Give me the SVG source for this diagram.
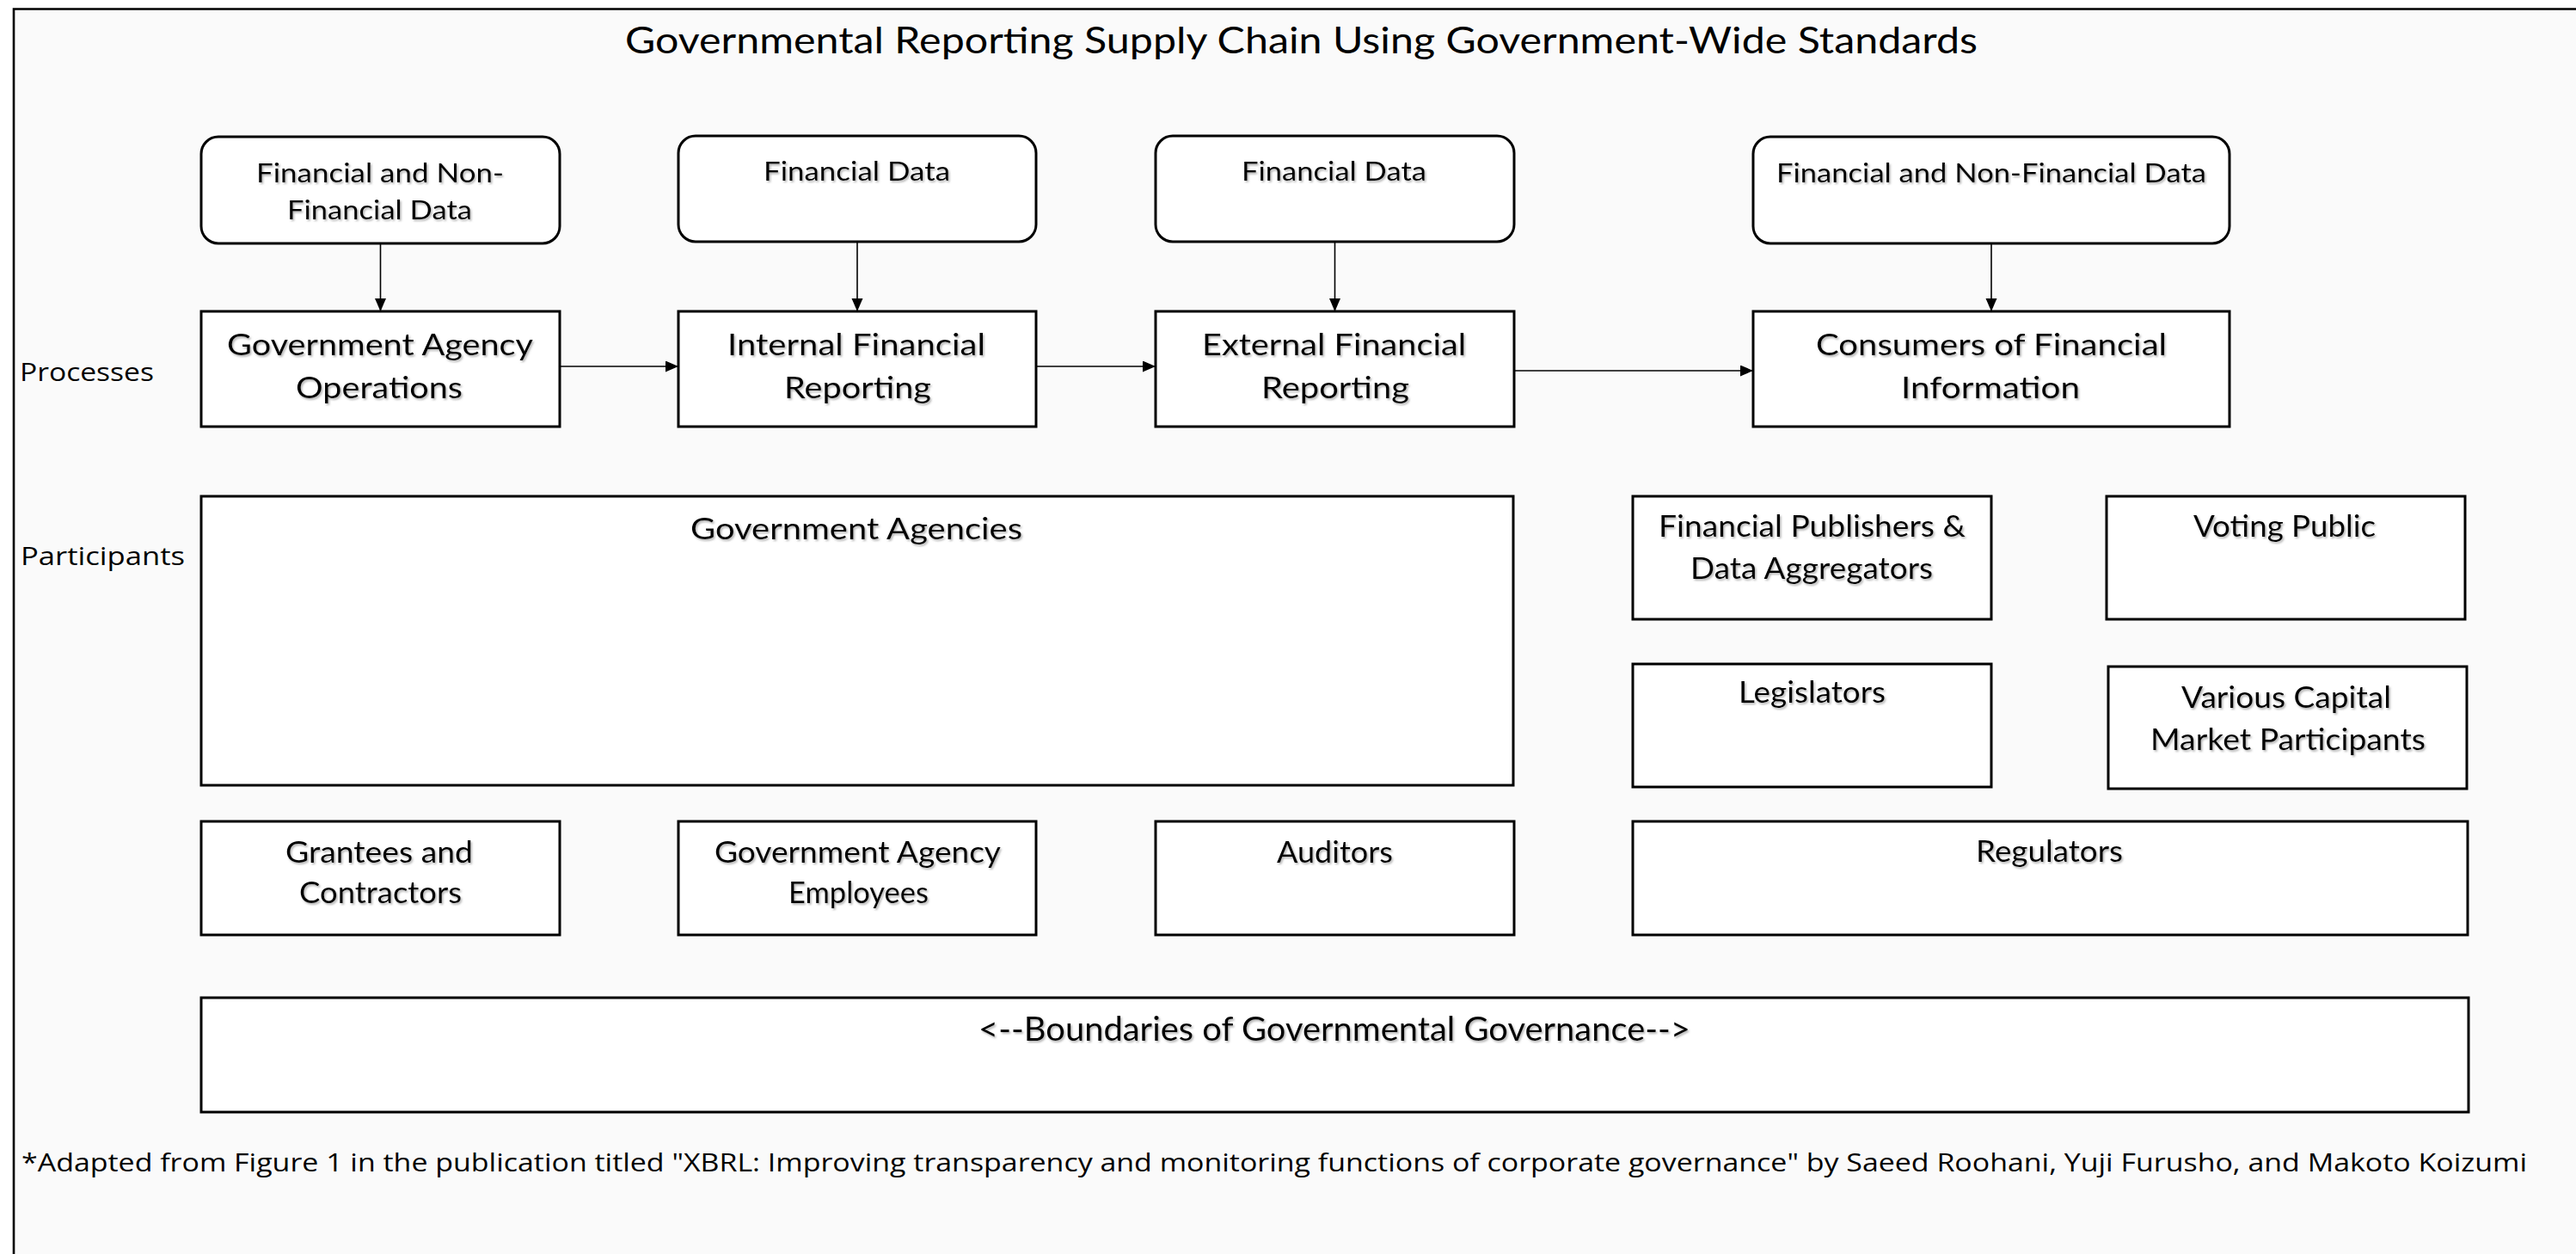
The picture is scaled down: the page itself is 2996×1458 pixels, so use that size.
<svg xmlns="http://www.w3.org/2000/svg" width="2996" height="1458" viewBox="0 0 2996 1458">
<defs>
<style>
.bg{fill:#fafafa}
.box{fill:#ffffff;stroke:#000000;stroke-width:3}
.conn{stroke:#000000;stroke-width:1.6;fill:none}
.t{font-family:Lato,"Liberation Sans",sans-serif;fill:#000000;text-anchor:middle;filter:url(#sh)}
.p{font-size:35px}
.d{font-size:30px}
.lab{font-family:"Open Sans","Liberation Sans",sans-serif;fill:#000000;font-size:30px}
</style>
<filter id="sh" x="-5%" y="-20%" width="110%" height="150%">
<feDropShadow dx="1.5" dy="2" stdDeviation="1.2" flood-color="#777777" flood-opacity="0.55"/>
</filter>
<marker id="ah" markerUnits="userSpaceOnUse" markerWidth="16" markerHeight="14" refX="15" refY="6.5" orient="auto">
<path d="M0,0 L15,6.5 L0,13 z" fill="#000000"/>
</marker>
</defs>
<rect x="0" y="0" width="2996" height="1458" fill="#ffffff"/>
<rect class="bg" x="16" y="10.5" width="2990" height="1460"/>
<path d="M16,1460 L16,10.5 L2996,10.5" fill="none" stroke="#000000" stroke-width="2.6"/>

<text id="title" class="t" x="1513.5" y="62" font-size="42" textLength="1573" lengthAdjust="spacingAndGlyphs" style="filter:none">Governmental Reporting Supply Chain Using Government-Wide Standards</text>

<text class="lab" x="23" y="443" textLength="156" lengthAdjust="spacingAndGlyphs">Processes</text>
<text class="lab" x="24" y="657" textLength="191" lengthAdjust="spacingAndGlyphs">Participants</text>

<g id="connectors">
<line class="conn" x1="442.5" y1="283" x2="442.5" y2="362" marker-end="url(#ah)"/>
<line class="conn" x1="997" y1="281" x2="997" y2="362" marker-end="url(#ah)"/>
<line class="conn" x1="1552.5" y1="281" x2="1552.5" y2="362" marker-end="url(#ah)"/>
<line class="conn" x1="2316" y1="283" x2="2316" y2="362" marker-end="url(#ah)"/>
<line class="conn" x1="651" y1="426" x2="789" y2="426" marker-end="url(#ah)"/>
<line class="conn" x1="1205" y1="426" x2="1344" y2="426" marker-end="url(#ah)"/>
<line class="conn" x1="1761" y1="431" x2="2039" y2="431" marker-end="url(#ah)"/>
</g>

<g id="data1">
<rect class="box" x="234" y="159" width="417" height="124" rx="20" ry="20"/>
<text class="t d" x="442" y="212" textLength="288" lengthAdjust="spacingAndGlyphs">Financial and Non-</text>
<text class="t d" x="441.5" y="255" textLength="215" lengthAdjust="spacingAndGlyphs">Financial Data</text>
</g>
<g id="data2">
<rect class="box" x="789" y="158" width="416" height="123" rx="20" ry="20"/>
<text class="t d" x="996.5" y="210" textLength="217" lengthAdjust="spacingAndGlyphs">Financial Data</text>
</g>
<g id="data3">
<rect class="box" x="1344" y="158" width="417" height="123" rx="20" ry="20"/>
<text class="t d" x="1551.5" y="210" textLength="215" lengthAdjust="spacingAndGlyphs">Financial Data</text>
</g>
<g id="data4">
<rect class="box" x="2039" y="159" width="554" height="124" rx="20" ry="20"/>
<text class="t d" x="2316" y="212" textLength="500" lengthAdjust="spacingAndGlyphs">Financial and Non-Financial Data</text>
</g>

<g id="proc1">
<rect class="box" x="234" y="362" width="417" height="134"/>
<text class="t p" x="442" y="413" textLength="356" lengthAdjust="spacingAndGlyphs">Government Agency</text>
<text class="t p" x="441" y="463" textLength="194" lengthAdjust="spacingAndGlyphs">Operations</text>
</g>
<g id="proc2">
<rect class="box" x="789" y="362" width="416" height="134"/>
<text class="t p" x="996" y="413" textLength="300" lengthAdjust="spacingAndGlyphs">Internal Financial</text>
<text class="t p" x="997.5" y="463" textLength="171" lengthAdjust="spacingAndGlyphs">Reporting</text>
</g>
<g id="proc3">
<rect class="box" x="1344" y="362" width="417" height="134"/>
<text class="t p" x="1551.5" y="413" textLength="307" lengthAdjust="spacingAndGlyphs">External Financial</text>
<text class="t p" x="1553" y="463" textLength="172" lengthAdjust="spacingAndGlyphs">Reporting</text>
</g>
<g id="proc4">
<rect class="box" x="2039" y="362" width="554" height="134"/>
<text class="t p" x="2316" y="413" textLength="408" lengthAdjust="spacingAndGlyphs">Consumers of Financial</text>
<text class="t p" x="2315" y="463" textLength="208" lengthAdjust="spacingAndGlyphs">Information</text>
</g>

<g id="govagencies">
<rect class="box" x="234" y="577" width="1526" height="336"/>
<text class="t p" x="996" y="627" textLength="386" lengthAdjust="spacingAndGlyphs">Government Agencies</text>
</g>
<g id="publishers">
<rect class="box" x="1899" y="577" width="417" height="143"/>
<text class="t p" x="2107.5" y="624" textLength="357" lengthAdjust="spacingAndGlyphs">Financial Publishers &amp;</text>
<text class="t p" x="2107" y="673" textLength="282" lengthAdjust="spacingAndGlyphs">Data Aggregators</text>
</g>
<g id="voting">
<rect class="box" x="2450" y="577" width="417" height="143"/>
<text class="t p" x="2657" y="624" textLength="212" lengthAdjust="spacingAndGlyphs">Voting Public</text>
</g>
<g id="legislators">
<rect class="box" x="1899" y="772" width="417" height="143"/>
<text class="t p" x="2107.5" y="817" textLength="171" lengthAdjust="spacingAndGlyphs">Legislators</text>
</g>
<g id="capital">
<rect class="box" x="2452" y="775" width="417" height="142"/>
<text class="t p" x="2659" y="823" textLength="244" lengthAdjust="spacingAndGlyphs">Various Capital</text>
<text class="t p" x="2661" y="872" textLength="320" lengthAdjust="spacingAndGlyphs">Market Participants</text>
</g>
<g id="grantees">
<rect class="box" x="234" y="955" width="417" height="132"/>
<text class="t p" x="441" y="1003" textLength="218" lengthAdjust="spacingAndGlyphs">Grantees and</text>
<text class="t p" x="442.5" y="1050" textLength="189" lengthAdjust="spacingAndGlyphs">Contractors</text>
</g>
<g id="employees">
<rect class="box" x="789" y="955" width="416" height="132"/>
<text class="t p" x="997.5" y="1003" textLength="333" lengthAdjust="spacingAndGlyphs">Government Agency</text>
<text class="t p" x="998.5" y="1050" textLength="163" lengthAdjust="spacingAndGlyphs">Employees</text>
</g>
<g id="auditors">
<rect class="box" x="1344" y="955" width="417" height="132"/>
<text class="t p" x="1552.5" y="1003" textLength="135" lengthAdjust="spacingAndGlyphs">Auditors</text>
</g>
<g id="regulators">
<rect class="box" x="1899" y="955" width="971" height="132"/>
<text class="t p" x="2383.5" y="1002" textLength="171" lengthAdjust="spacingAndGlyphs">Regulators</text>
</g>
<g id="boundaries">
<rect class="box" x="234" y="1160" width="2637" height="133"/>
<text class="t" x="1552" y="1210" font-size="39" textLength="828" lengthAdjust="spacingAndGlyphs">&lt;--Boundaries of Governmental Governance--&gt;</text>
</g>

<text id="footnote" class="lab" x="25" y="1362" textLength="2914" lengthAdjust="spacingAndGlyphs">*Adapted from Figure 1 in the publication titled "XBRL: Improving transparency and monitoring functions of corporate governance" by Saeed Roohani, Yuji Furusho, and Makoto Koizumi</text>
</svg>
